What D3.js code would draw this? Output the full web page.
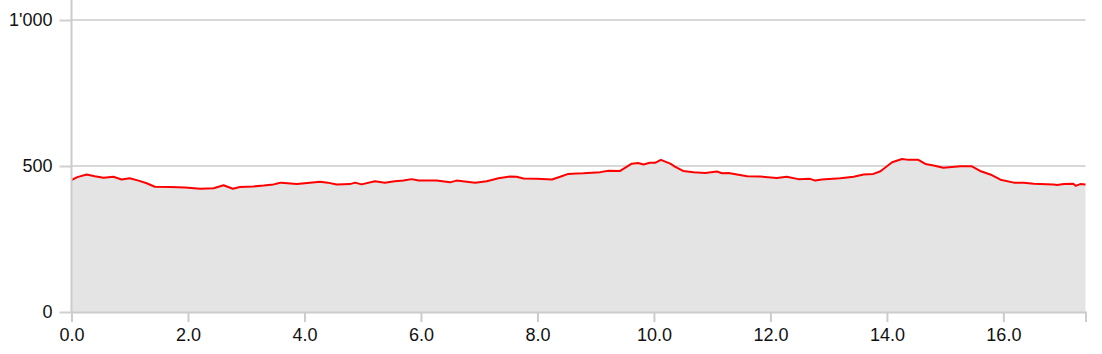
<!DOCTYPE html>
<html>
<head>
<meta charset="utf-8">
<script src="https://cdn.jsdelivr.net/npm/d3@7"></script>
<style>
  body { margin: 0; background: #fff; }
  svg text { font-family: "Liberation Sans", Arial, sans-serif; font-size: 18px; fill: #111; }
</style>
</head>
<body>
<svg></svg>
<script>
const width = 1102;
const height = 354;

// distance along the route (km) and elevation (m)
const km = [0, 0.1, 0.26, 0.4, 0.55, 0.72, 0.86, 1.0, 1.15, 1.29, 1.43, 1.69, 1.95, 2.21, 2.44, 2.61, 2.77, 2.89, 3.12, 3.3, 3.47, 3.55, 3.6, 3.87, 4.05, 4.27, 4.4, 4.55, 4.78, 4.87, 4.98, 5.21, 5.38, 5.55, 5.7, 5.84, 5.96, 6.27, 6.5, 6.61, 6.93, 7.13, 7.33, 7.53, 7.64, 7.76, 7.99, 8.25, 8.39, 8.53, 8.67, 8.79, 9.08, 9.22, 9.42, 9.62, 9.73, 9.82, 9.93, 10.02, 10.12, 10.28, 10.36, 10.5, 10.68, 10.88, 11.08, 11.17, 11.28, 11.6, 11.82, 12.11, 12.28, 12.48, 12.68, 12.77, 12.88, 13.2, 13.43, 13.6, 13.77, 13.89, 14.09, 14.26, 14.37, 14.54, 14.66, 14.8, 14.97, 15.26, 15.46, 15.6, 15.8, 15.95, 16.18, 16.35, 16.52, 16.86, 16.92, 17.04, 17.2, 17.24, 17.32, 17.41];
const elevation = [452, 462, 471, 465, 460, 463, 454, 458, 450, 441, 429, 428, 426, 422, 424, 434, 422, 428, 430, 433, 437, 441, 443, 438, 442, 446, 443, 437, 438, 443, 437, 448, 443, 448, 450, 455, 450, 450, 444, 450, 443, 448, 458, 464, 463, 457, 456, 454, 463, 473, 474, 475, 479, 484, 483, 508, 510, 505, 511, 511, 521, 508, 498, 483, 479, 476, 481, 475, 476, 465, 464, 459, 463, 455, 456, 450, 454, 458, 463, 471, 473, 482, 513, 524, 521, 521, 507, 502, 494, 499, 499, 483, 469, 453, 443, 443, 439, 437, 435, 438, 439, 432, 438, 437];

const xTicks = [0, 2, 4, 6, 8, 10, 12, 14, 16];
const yTicks = [0, 500, 1000];

const data = km.map((d, i) => ({ km: d, ele: elevation[i] }));

const svg = d3.select('svg').attr('width', width).attr('height', height);

const x = d3.scaleLinear().domain([0, d3.max(km)]).range([71.5, 1085.5]);
const y = d3.scaleLinear().domain([0, 1000]).range([312, 20]);

const swiss = d3.formatLocale({ decimal: '.', thousands: "'", grouping: [3], currency: ['', ''] });

// horizontal grid lines, behind the profile
svg.append('g').selectAll('line')
  .data(yTicks.slice(1))
  .enter().append('line')
  .attr('x1', x.range()[0]).attr('x2', x.range()[1])
  .attr('y1', d => y(d)).attr('y2', d => y(d))
  .style('stroke', '#d8d8d8')
  .style('stroke-width', 2);

const area = d3.area().x(d => x(d.km)).y0(y(0)).y1(d => y(d.ele));
const line = d3.line().x(d => x(d.km)).y(d => y(d.ele));

svg.append('path').datum(data)
  .attr('d', area)
  .style('fill', '#e4e4e4');

svg.append('path').datum(data)
  .attr('d', line)
  .style('fill', 'none')
  .style('stroke', '#ff0000')
  .style('stroke-width', 2)
  .style('stroke-linejoin', 'round');

// y axis
const yAxis = svg.append('g')
  .attr('transform', 'translate(' + x.range()[0] + ',0)')
  .call(d3.axisLeft(y).tickValues(yTicks).tickSize(12).tickPadding(7).tickFormat(swiss.format(',')));
yAxis.select('.domain').remove();
yAxis.selectAll('.tick line').style('stroke', '#d0d0d0').style('stroke-width', 2);
yAxis.append('line')
  .attr('x1', 0).attr('x2', 0).attr('y1', 0).attr('y2', y(0))
  .style('stroke', '#cccccc').style('stroke-width', 2);

// x axis
const xAxis = svg.append('g')
  .attr('transform', 'translate(0,' + y(0) + ')')
  .call(d3.axisBottom(x).tickValues(xTicks).tickSize(10).tickSizeOuter(10).tickPadding(6).tickFormat(d3.format('.1f')));
xAxis.select('.domain').style('stroke', '#cccccc').style('stroke-width', 2);
xAxis.selectAll('.tick line').style('stroke', '#cccccc').style('stroke-width', 2);
svg.selectAll('.tick text').style('font-size', '18px').style('fill', '#111');
</script>
</body>
</html>
